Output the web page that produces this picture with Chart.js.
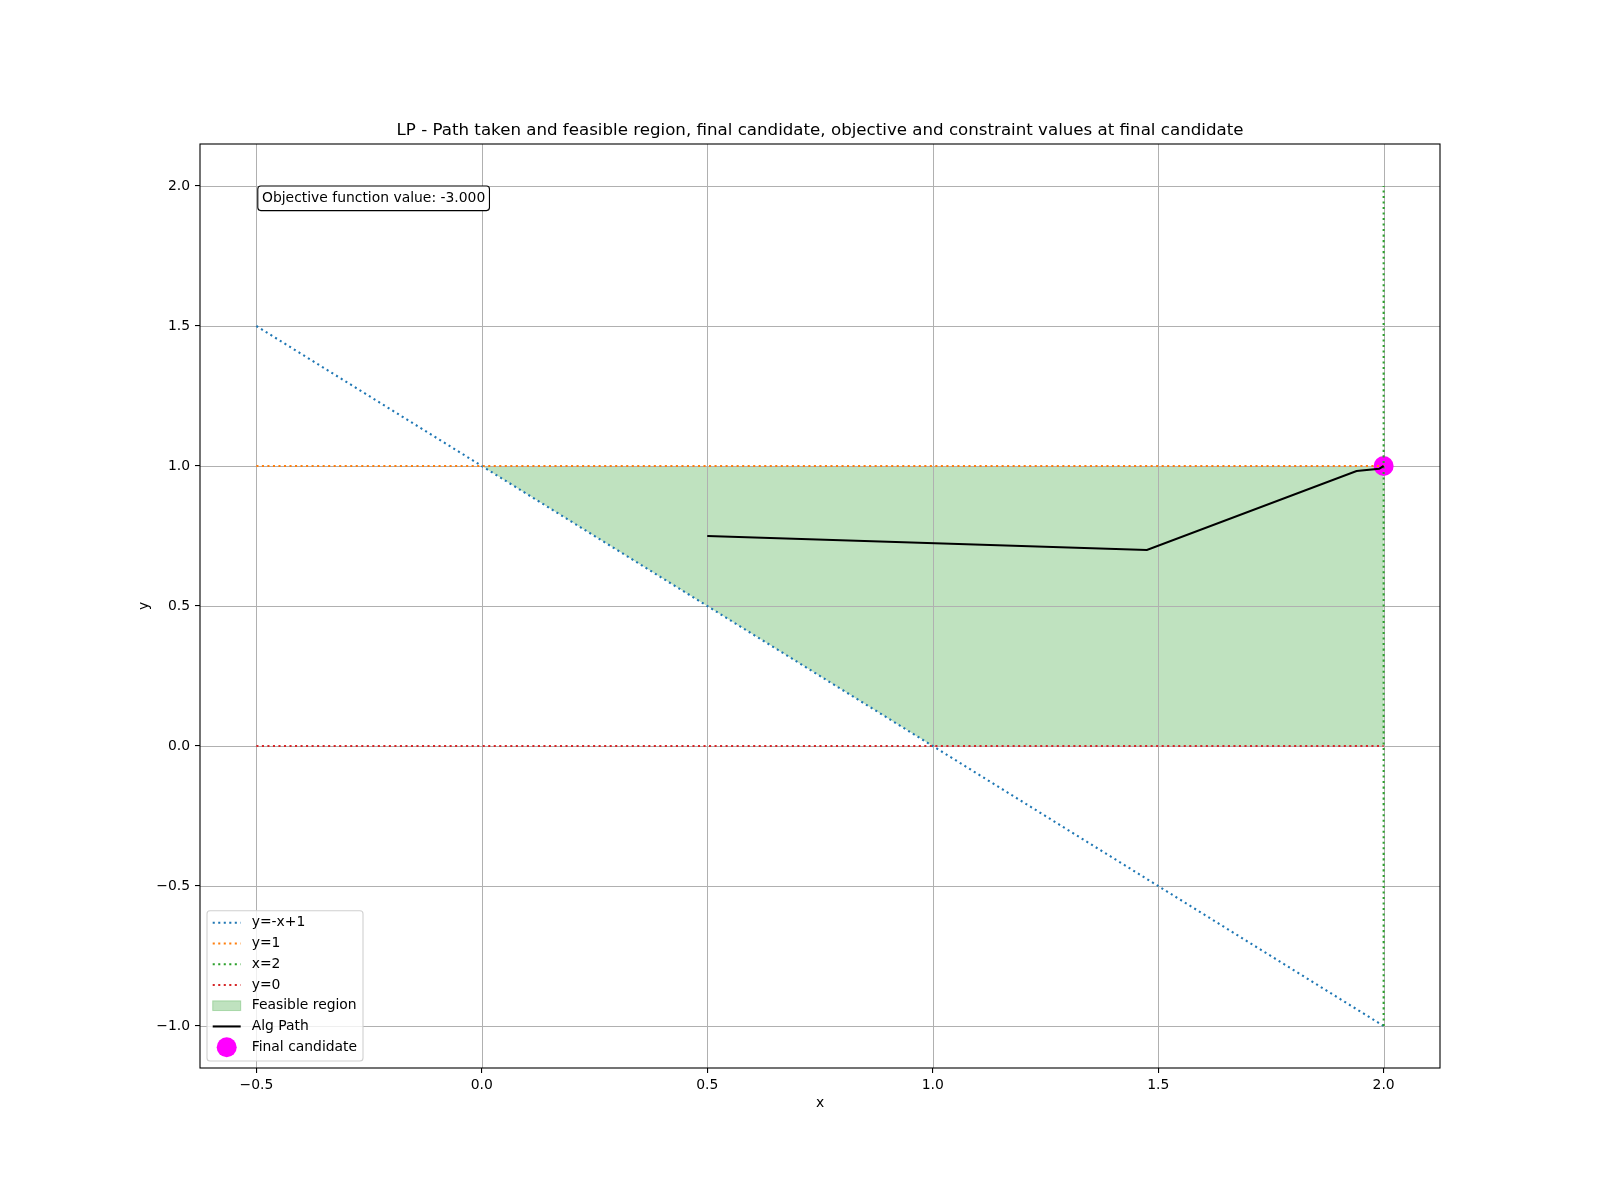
<!DOCTYPE html>
<html>
<head>
<meta charset="utf-8">
<script src="https://cdn.jsdelivr.net/npm/chart.js@4.4.1/dist/chart.umd.min.js"></script>
<style>
  html, body { margin: 0; padding: 0; background: #ffffff; }
  #wrap { width: 1600px; height: 1200px; }
</style>
</head>
<body>
<div id="wrap"><canvas id="c" width="1600" height="1200"></canvas></div>
<script>
// ---- data ----
const titleText = 'LP - Path taken and feasible region, final candidate, objective and constraint values at final candidate';
const xLabel = 'x';
const yLabel = 'y';
const constraintX = [-0.5, 2.0];
const lineNegXPlus1 = [1.5, -1.0];
const lineY1 = [1.0, 1.0];
const lineY0 = [0.0, 0.0];
const lineX2x = [2.0, 2.0];
const lineX2y = [-1.0, 2.0];
const regionX = [0, 2, 2, 1, 0];
const regionY = [1, 1, 0, 0, 1];
const pathX = [0.5, 1.475, 1.94, 1.99, 2.0];
const pathY = [0.75, 0.70, 0.982, 0.99, 1.0];
const finalX = [2.0];
const finalY = [1.0];
const objectiveValue = -3.0;
const xTicks = [-0.5, 0.0, 0.5, 1.0, 1.5, 2.0];
const yTicks = [-1.0, -0.5, 0.0, 0.5, 1.0, 1.5, 2.0];
const legendLabels = ['y=-x+1', 'y=1', 'x=2', 'y=0', 'Feasible region', 'Alg Path', 'Final candidate'];

const pts = (xs, ys) => xs.map((x, i) => ({x: x, y: ys[i]}));

const C_BLUE = '#1f77b4', C_ORANGE = '#ff7f0e', C_GREEN = '#2ca02c', C_RED = '#d62728';
const FILL = 'rgba(44,160,44,0.3)';
const GRID = '#b0b0b0';
const LW = 2.08;
const DOT = [2.08, 3.44];
const FONT = '"DejaVu Sans", "Liberation Sans", sans-serif';
const FS = 13.9;

const fmt = v => {
  const s = Number(v).toFixed(1);
  return s.startsWith('-') ? '\u2212' + s.slice(1) : s;
};
const snap = p => Math.round(p) + 0.5;

const overlay = {
  id: 'overlay',
  afterDatasetDraw(chart, args) {
    // grid sits above the filled region but below the lines (as in the reference)
    if (chart.data.datasets[args.index].label !== 'Feasible region') return;
    const ctx = chart.ctx, a = chart.chartArea;
    const xs = chart.scales.x, ys = chart.scales.y;
    ctx.save();
    ctx.strokeStyle = GRID;
    ctx.lineWidth = 1;
    ctx.beginPath();
    xTicks.forEach(v => {
      const p = snap(xs.getPixelForValue(v));
      ctx.moveTo(p, a.top); ctx.lineTo(p, a.bottom);
    });
    yTicks.forEach(v => {
      const p = snap(ys.getPixelForValue(v));
      ctx.moveTo(a.left, p); ctx.lineTo(a.right, p);
    });
    ctx.stroke();
    ctx.restore();
  },
  afterDraw(chart) {
    const ctx = chart.ctx;
    const a = chart.chartArea;
    ctx.save();
    // frame
    ctx.strokeStyle = '#000';
    ctx.lineWidth = 1.1;
    ctx.strokeRect(a.left, a.top, a.right - a.left, a.bottom - a.top);
    // title
    ctx.fillStyle = '#000';
    ctx.font = '16.67px ' + FONT;
    ctx.textAlign = 'center';
    ctx.textBaseline = 'alphabetic';
    ctx.fillText(titleText, (a.left + a.right) / 2, a.top - 9);
    // axis titles
    ctx.font = FS + 'px ' + FONT;
    ctx.textBaseline = 'middle';
    ctx.fillText(xLabel, (a.left + a.right) / 2, 1103);
    ctx.save();
    ctx.translate(144, (a.top + a.bottom) / 2);
    ctx.rotate(-Math.PI / 2);
    ctx.fillText(yLabel, 0, 0);
    ctx.restore();

    // annotation box
    const txt = 'Objective function value: ' + objectiveValue.toFixed(3);
    ctx.font = FS + 'px ' + FONT;
    const tw = ctx.measureText(txt).width;
    const tx = a.left + 0.05 * (a.right - a.left);
    const ty = a.top + 0.05 * (a.bottom - a.top);
    const pad = 4.2;
    const bx = tx - pad, by = ty - pad, bw = tw + 2 * pad, bh = 16.2 + 2 * pad;
    ctx.beginPath();
    ctx.roundRect(bx, by, bw, bh, 3);
    ctx.fillStyle = '#fff';
    ctx.fill();
    ctx.strokeStyle = '#000';
    ctx.lineWidth = 1.1;
    ctx.stroke();
    ctx.fillStyle = '#000';
    ctx.textAlign = 'left';
    ctx.textBaseline = 'middle';
    ctx.fillText(txt, tx, ty + 8);

    // legend
    const lx = 207, ly = 910.7, lw = 156, lh = 150.3;
    ctx.beginPath();
    ctx.roundRect(lx, ly, lw, lh, 3);
    ctx.fillStyle = 'rgba(255,255,255,0.8)';
    ctx.fill();
    ctx.strokeStyle = '#d0d0d0';
    ctx.lineWidth = 1.1;
    ctx.stroke();
    const ds = chart.data.datasets;
    const byLabel = {};
    ds.forEach(d => byLabel[d.label] = d);
    legendLabels.forEach((lab, i) => {
      const cy = 922.7 + i * 20.75;
      const d = byLabel[lab];
      const hx0 = 212.7, hx1 = 240.7;
      ctx.save();
      if (lab === 'Feasible region') {
        ctx.fillStyle = FILL;
        ctx.fillRect(hx0, cy - 4.85, hx1 - hx0, 9.7);
        ctx.strokeStyle = FILL;
        ctx.lineWidth = 1;
        ctx.strokeRect(hx0, cy - 4.85, hx1 - hx0, 9.7);
      } else if (lab === 'Final candidate') {
        ctx.beginPath();
        ctx.arc((hx0 + hx1) / 2, cy, 10, 0, Math.PI * 2);
        ctx.fillStyle = d.backgroundColor;
        ctx.fill();
      } else {
        ctx.beginPath();
        ctx.strokeStyle = d.borderColor;
        ctx.lineWidth = LW;
        ctx.setLineDash(d.borderDash || []);
        ctx.moveTo(hx0, cy);
        ctx.lineTo(hx1, cy);
        ctx.stroke();
      }
      ctx.restore();
      ctx.fillStyle = '#000';
      ctx.font = FS + 'px ' + FONT;
      ctx.textAlign = 'left';
      ctx.textBaseline = 'middle';
      ctx.fillText(lab, 251.7, cy);
    });
    ctx.restore();
  }
};

const lineDs = (label, data, color, order) => ({
  label: label, data: data, showLine: true, borderColor: color, borderWidth: LW,
  borderDash: DOT, pointRadius: 0, pointHoverRadius: 0, fill: false, order: order, tension: 0
});

new Chart(document.getElementById('c'), {
  type: 'scatter',
  data: {
    datasets: [
      { label: 'Alg Path', data: pts(pathX, pathY), showLine: true, borderColor: '#000000',
        borderWidth: LW, pointRadius: 0, fill: false, order: 0, tension: 0 },
      lineDs('y=-x+1', pts(constraintX, lineNegXPlus1), C_BLUE, 4),
      lineDs('y=1', pts(constraintX, lineY1), C_ORANGE, 3),
      lineDs('x=2', pts(lineX2x, lineX2y), C_GREEN, 2),
      lineDs('y=0', pts(constraintX, lineY0), C_RED, 1),
      { label: 'Final candidate', data: pts(finalX, finalY), backgroundColor: '#ff00ff',
        borderWidth: 0, pointRadius: 10, pointHoverRadius: 10, showLine: false, order: 5 },
      { label: 'Feasible region', data: pts(regionX, regionY), showLine: true,
        borderWidth: 0, borderColor: 'rgba(0,0,0,0)', backgroundColor: FILL,
        fill: 'shape', pointRadius: 0, order: 6, tension: 0 }
    ]
  },
  options: {
    responsive: false,
    animation: false,
    events: [],
    layout: { padding: { top: 144, right: 160, left: 0, bottom: 0 } },
    plugins: { legend: { display: false }, tooltip: { enabled: false }, title: { display: false } },
    scales: {
      x: {
        type: 'linear', position: 'bottom', min: -0.625, max: 2.125,
        afterBuildTicks: s => { s.ticks = xTicks.map(v => ({value: v})); },
        afterFit: s => { s.height = 132; },
        grid: { color: GRID, lineWidth: 1.1, tickColor: '#000', tickLength: 5, tickWidth: 1.1, drawOnChartArea: false },
        border: { display: false },
        ticks: { color: '#000', font: { family: FONT, size: FS }, padding: 4, maxRotation: 0, autoSkip: false, callback: v => fmt(v) }
      },
      y: {
        type: 'linear', position: 'left', min: -1.15, max: 2.15,
        afterBuildTicks: s => { s.ticks = yTicks.map(v => ({value: v})); },
        afterFit: s => { s.width = 200; },
        grid: { color: GRID, lineWidth: 1.1, tickColor: '#000', tickLength: 5, tickWidth: 1.1, drawOnChartArea: false },
        border: { display: false },
        ticks: { color: '#000', font: { family: FONT, size: FS }, padding: 5, autoSkip: false, callback: v => fmt(v) }
      }
    }
  },
  plugins: [overlay]
});
</script>
</body>
</html>
